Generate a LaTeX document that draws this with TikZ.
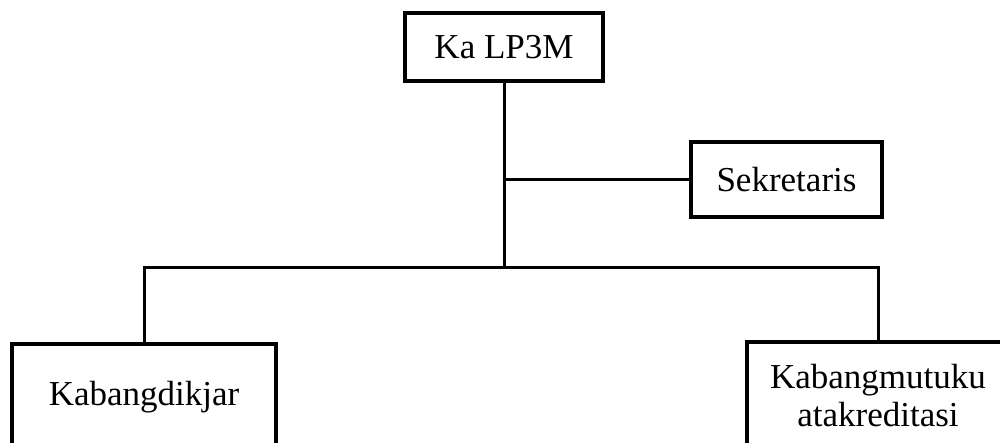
\documentclass[tikz,border=0pt]{standalone}
\usepackage{fontspec}
\setmainfont{Liberation Serif}
\begin{document}
\begin{tikzpicture}[x=1pt,y=-1pt,
  orgbox/.style={draw=black,line width=3.5pt,fill=white,inner sep=0pt,align=center,
    font=\fontsize{35}{38}\selectfont},
  conn/.style={draw=black,line width=3pt}]
\useasboundingbox (0,0) rectangle (1000,443);
\clip (0,0) rectangle (1000,443);
\node[orgbox,minimum width=198pt,minimum height=68pt] (lp) at (504,47) {Ka LP3M};
\node[orgbox,minimum width=191pt,minimum height=75pt] (sek) at (786.5,179.5) {Sekretaris};
\node[orgbox,minimum width=264pt,minimum height=106pt] (kd) at (144,397) {Kabangdikjar};
\node[orgbox,minimum width=262pt,minimum height=108pt] (km) at (878,396) {Kabangmutuku\\atakreditasi};
\coordinate (bus) at (504,268);
\draw[conn] (lp.south) -- (bus);
\draw[conn] (sek.west) -- (sek.west -| lp.south);
\draw[conn] (kd.north) |- (bus) -| (km.north);
\end{tikzpicture}
\end{document}
